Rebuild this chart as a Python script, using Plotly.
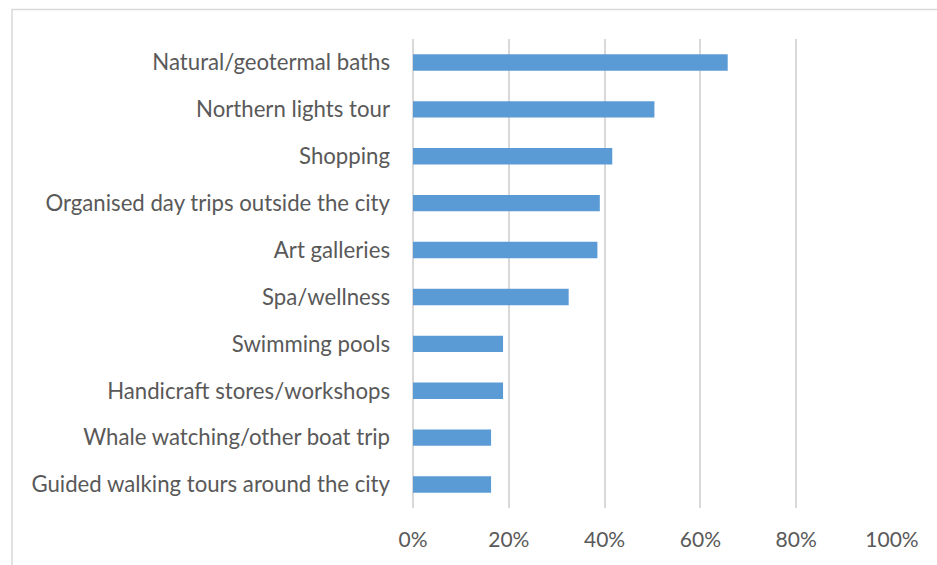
import plotly.graph_objects as go

# Share of respondents who used each activity / service
categories = [
    "Natural/geotermal baths",
    "Northern lights tour",
    "Shopping",
    "Organised day trips outside the city",
    "Art galleries",
    "Spa/wellness",
    "Swimming pools",
    "Handicraft stores/workshops",
    "Whale watching/other boat trip",
    "Guided walking tours around the city",
]
shares = [0.657, 0.504, 0.416, 0.390, 0.385, 0.325, 0.188, 0.188, 0.163, 0.163]
tick_values = [0, 0.2, 0.4, 0.6, 0.8, 1.0]
tick_labels = ["0%", "20%", "40%", "60%", "80%", "100%"]

W, H = 937, 565
ML, MR, MT, MB = 413, 45, 39, 57
pw, ph = W - ML - MR, H - MT - MB

font_family = "Lato, 'Open Sans', sans-serif"
text_color = "#595959"
grid_color = "#d9d9d9"

fig = go.Figure(
    go.Bar(
        x=shares,
        y=categories,
        orientation="h",
        marker=dict(color="#5b9bd5", line=dict(width=0)),
        hoverinfo="x+y",
    )
)

fig.update_layout(
    width=W,
    height=H,
    margin=dict(l=ML, r=MR, t=MT, b=MB, autoexpand=False),
    paper_bgcolor="white",
    plot_bgcolor="white",
    bargap=0.65,
    showlegend=False,
    font=dict(family=font_family, size=22, color=text_color),
    xaxis=dict(
        range=[0, 1.0],
        tickvals=tick_values,
        ticktext=tick_labels,
        tickfont=dict(size=21),
        showgrid=True,
        gridcolor=grid_color,
        gridwidth=1.5,
        zeroline=True,
        zerolinecolor=grid_color,
        zerolinewidth=1.5,
        showline=False,
        ticks="",
        ticklabelstandoff=17,
        fixedrange=True,
    ),
    yaxis=dict(
        categoryorder="array",
        categoryarray=categories[::-1],
        tickfont=dict(size=22.2),
        showgrid=False,
        zeroline=False,
        showline=False,
        ticks="",
        ticklabelstandoff=22,
        fixedrange=True,
    ),
    shapes=[
        # chart-area frame
        dict(
            type="rect",
            xref="paper",
            yref="paper",
            x0=(12 - ML) / pw,
            x1=1 + (MR + 20) / pw,
            y0=-(MB + 20) / ph,
            y1=1 + (MT - 9.5) / ph,
            line=dict(color="#d9d9d9", width=1.5),
            fillcolor="rgba(0,0,0,0)",
            layer="below",
        )
    ],
)

fig.write_html("out.html")
